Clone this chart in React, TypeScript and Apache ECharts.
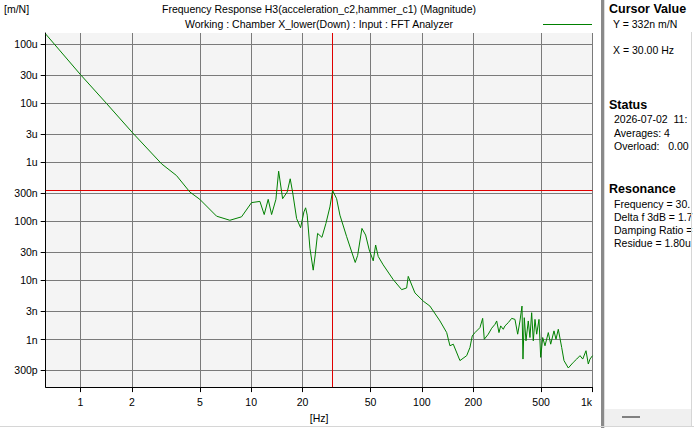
import React, { useEffect, useRef } from "react";
import * as echarts from "echarts";

// ---- data ----
const freqHz = [
  0.625, 1.0, 1.42, 2.01, 2.99, 3.65, 4.37, 5.0, 6.27, 7.5, 8.78, 10.05, 11.25, 11.92, 12.58,
  13.17, 13.96, 14.48, 15.28, 16.26, 16.93, 17.48, 18.46, 19.48, 20.37, 20.84, 21.3, 22.09,
  23.09, 23.72, 24.5, 25.97, 27.41, 28.93, 30.0, 31.66, 33.11, 36.25, 40.7, 42.05, 44.56,
  46.84, 49.18, 51.89, 53.6, 55.51, 59.38, 67.98, 76.14, 81.44, 83.23, 91.1, 101.9, 111.5,
  127.7, 139.8, 146.1, 152.8, 167.2, 183.1, 191.4, 197.4, 204.8, 219.0, 227.2, 232.2, 245.0,
  256.6, 268.3, 274.5, 283.1, 289.7, 300.0, 306.9, 321.0, 336.1, 351.3, 364.4, 375.8, 386.2,
  391.4, 398.3, 407.6, 420.4, 430.1, 440.1, 449.8, 460.3, 470.9, 485.8, 497.1, 510.7, 526.8,
  550.8, 568.9, 594.8, 611.0, 630.3, 659.9, 680.7, 721.4, 771.7, 807.9, 844.9, 876.4, 915.9,
  944.9, 966.7, 1000,
];

const magnitudeMperN = [
  1.47e-4, 3.02e-5, 9.84e-6, 3.18e-6, 9.33e-7, 5.94e-7, 3.13e-7, 2.35e-7, 1.22e-7, 1.04e-7,
  1.19e-7, 2.07e-7, 2.17e-7, 1.3e-7, 2.35e-7, 1.3e-7, 2.35e-7, 7.03e-7, 2.41e-7, 3.13e-7,
  5.23e-7, 3.13e-7, 1.11e-7, 7.78e-8, 1.44e-7, 1.69e-7, 1.27e-7, 3.5e-8, 1.49e-8, 2.7e-8,
  6.24e-8, 5.35e-8, 9.19e-8, 1.75e-7, 3.32e-7, 2.41e-7, 1.27e-7, 5.5e-8, 2.01e-8, 2.64e-8,
  7.57e-8, 5.85e-8, 3.27e-8, 2.14e-8, 3.97e-8, 2.54e-8, 1.83e-8, 1.03e-8, 6.98e-9, 7.45e-9,
  1.17e-8, 6.15e-9, 4.46e-9, 3.68e-9, 2.06e-9, 1.31e-9, 7.83e-10, 8.34e-10, 4.4e-10, 5.33e-10,
  7.34e-10, 1.15e-9, 1.31e-9, 1.59e-9, 2.28e-9, 1.01e-9, 1.23e-9, 1.55e-9, 1.81e-9, 2.06e-9,
  1.31e-9, 1.7e-9, 1.49e-9, 1.7e-9, 1.93e-9, 2.28e-9, 2.19e-9, 1.23e-9, 2.06e-9, 3.68e-9,
  4.67e-10, 2.34e-9, 9.51e-10, 2.06e-9, 1.08e-9, 2.84e-9, 9.51e-10, 2.19e-9, 1.23e-9, 2.19e-9,
  4.99e-10, 1.08e-9, 7.83e-10, 1.31e-9, 8.34e-10, 1.4e-9, 1.01e-9, 1.49e-9, 7.34e-10, 4.4e-10,
  3.3e-10, 4.11e-10, 4.67e-10, 5.33e-10, 4.67e-10, 6.46e-10, 3.85e-10, 4.67e-10, 5.33e-10,
];

const xTickValues = [1, 2, 5, 10, 20, 50, 100, 200, 500, 1000];
const xTickLabels = ["1", "2", "5", "10", "20", "50", "100", "200", "500", "1k"];
const yTickValues = [1e-4, 3e-5, 1e-5, 3e-6, 1e-6, 3e-7, 1e-7, 3e-8, 1e-8, 3e-9, 1e-9, 3e-10];
const yTickLabels = ["100u", "30u", "10u", "3u", "1u", "300n", "100n", "30n", "10n", "3n", "1n", "300p"];

const xRange = [0.625, 1000];
const yRange = [1.567e-10, 1.531e-4];

const cursorFreq = 30.0;
const cursorMag = 3.32e-7;

const titleLine1 = "Frequency Response H3(acceleration_c2,hammer_c1) (Magnitude)";
const titleLine2 = "Working : Chamber X_lower(Down) : Input : FFT Analyzer";
const yUnit = "[m/N]";
const xUnit = "[Hz]";

const cursorTexts = ["Y = 332n m/N", "X = 30.00 Hz"];
const statusTexts = ["2026-07-02  11:", "Averages: 4", "Overload:   0.00"];
const resonanceTexts = ["Frequency = 30.", "Delta f 3dB = 1.7", "Damping Ratio =", "Residue = 1.80u"];

const FONT = '"Liberation Sans", Arial, sans-serif';
const FS = 10.5;

const lg = (v: number) => Math.log10(v);

function labelFor(values: number[], labels: string[], v: number) {
  for (let i = 0; i < values.length; i++) {
    if (Math.abs(lg(values[i]) - v) < 1e-6) return labels[i];
  }
  return "";
}

function txt(text: string, x: number, y: number, opts: any = {}) {
  return {
    type: "text",
    x,
    y,
    z: 100,
    style: {
      text,
      fill: "#000",
      fontSize: opts.fontSize || FS,
      fontWeight: opts.bold ? "bold" : "normal",
      fontFamily: FONT,
      align: opts.align || "left",
      verticalAlign: "middle",
    },
  };
}

export default function App() {
  const ref = useRef<HTMLDivElement>(null);

  useEffect(() => {
    document.body.style.margin = "0";
    if (!ref.current) return;
    const chart = echarts.init(ref.current, null, { renderer: "svg" });

    const seriesData = freqHz.map((f, i) => [lg(f), lg(magnitudeMperN[i])]);
    const xTicks = xTickValues.map(lg);
    const yTicks = yTickValues.map(lg);
    const xMin = lg(xRange[0]);
    const xMax = lg(xRange[1]);
    const yMin = lg(yRange[0]);
    const yMax = lg(yRange[1]);

    const graphic: any[] = [
      txt(yUnit, 4, 9),
      txt(titleLine1, 319, 9, { align: "center" }),
      txt(titleLine2, 319, 24, { align: "center" }),
      {
        type: "line",
        z: 100,
        shape: { x1: 543, y1: 24.5, x2: 592, y2: 24.5 },
        style: { stroke: "#008000", lineWidth: 1 },
      },
      // panel separator
      { type: "rect", z: 90, shape: { x: 601, y: 0, width: 3, height: 428 }, style: { fill: "#8a8a8a" } },
      { type: "rect", z: 90, shape: { x: 604, y: 0, width: 1, height: 428 }, style: { fill: "#dcdcdc" } },
      txt("Cursor Value", 609, 9, { bold: true, fontSize: 12.5 }),
      txt(cursorTexts[0], 613, 24),
      txt(cursorTexts[1], 613, 50),
      txt("Status", 609, 105, { bold: true, fontSize: 12.5 }),
      ...statusTexts.map((t, i) => txt(t, 614, 119 + i * 13.5)),
      txt("Resonance", 609, 189, { bold: true, fontSize: 12.5 }),
      ...resonanceTexts.map((t, i) => txt(t, 614, 204 + i * 13)),
      { type: "line", z: 111, shape: { x1: 691.5, y1: 32, x2: 691.5, y2: 426 }, style: { stroke: "#d6d6d6", lineWidth: 1 } },
      // bottom strip of the panel
      { type: "rect", z: 95, shape: { x: 605, y: 409, width: 86, height: 17 }, style: { fill: "#f0f0f0" } },
      { type: "line", z: 96, shape: { x1: 622, y1: 417, x2: 640, y2: 417 }, style: { stroke: "#808080", lineWidth: 2 } },
      { type: "line", z: 96, shape: { x1: 0, y1: 426.5, x2: 694, y2: 426.5 }, style: { stroke: "#d6d6d6", lineWidth: 1 } },
    ];

    chart.setOption({
      animation: false,
      graphic,
      grid: {
        left: 45.7,
        right: 101.5,
        top: 33,
        bottom: 38,
        show: true,
        backgroundColor: "#f4f4f4",
        borderWidth: 0,
      },
      xAxis: {
        type: "value",
        min: xMin,
        max: xMax,
        axisLine: { onZero: false, lineStyle: { color: "#000", width: 1 } },
        axisTick: { show: true, customValues: xTicks, length: 5, lineStyle: { color: "#000" } },
        axisLabel: {
          customValues: xTicks,
          margin: 9,
          fontSize: FS,
          fontFamily: FONT,
          color: "#000",
          formatter: (v: number) => {
            const s = labelFor(xTickValues, xTickLabels, v);
            return s === "1k" ? "{k|" + s + "}" : s;
          },
          rich: {
            k: { fontSize: FS, fontFamily: FONT, color: "#000", padding: [0, 12, 0, 0] },
          },
        },
        splitLine: { show: true, lineStyle: { color: "#7a7a7a", width: 1 } },
        name: xUnit,
        nameLocation: "middle",
        nameGap: 19,
        nameTextStyle: { fontSize: FS, fontFamily: FONT, color: "#000" },
      },
      yAxis: {
        type: "value",
        min: yMin,
        max: yMax,
        axisLine: { show: true, onZero: false, lineStyle: { color: "#000", width: 1 } },
        axisTick: { show: true, customValues: yTicks, length: 5, lineStyle: { color: "#000" } },
        axisLabel: {
          customValues: yTicks,
          margin: 8,
          fontSize: FS,
          fontFamily: FONT,
          color: "#000",
          formatter: (v: number) => labelFor(yTickValues, yTickLabels, v),
        },
        splitLine: { show: true, lineStyle: { color: "#7a7a7a", width: 1 } },
      },
      series: [
        {
          type: "line",
          data: seriesData,
          symbol: "none",
          lineStyle: { color: "#008000", width: 1 },
          itemStyle: { color: "#008000" },
          z: 5,
          markLine: {
            silent: true,
            symbol: ["none", "none"],
            label: { show: false },
            lineStyle: { color: "#e00000", type: "solid", width: 1 },
            data: [
              [{ coord: [lg(cursorFreq), yMin] }, { coord: [lg(cursorFreq), yMax] }],
              [{ coord: [xMin, lg(cursorMag)] }, { coord: [xMax, lg(cursorMag)] }],
            ],
          },
        },
      ],
    });

    return () => chart.dispose();
  }, []);

  return <div ref={ref} style={{ width: 694, height: 428 }} />;
}
